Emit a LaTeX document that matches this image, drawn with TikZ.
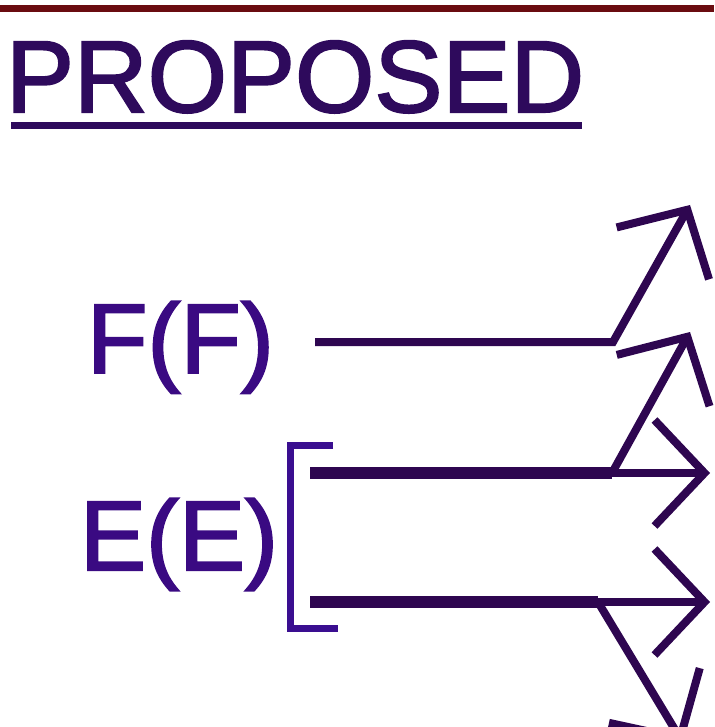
\documentclass[tikz,border=0pt]{standalone}
\usepackage{fontspec}
\setmainfont{Liberation Sans}
\newfontfamily\heavyfont[FakeBold=2]{Liberation Sans}
\usetikzlibrary{arrows.meta}
\definecolor{topred}{HTML}{6A0C10}
\definecolor{titlec}{HTML}{2E0A5C}
\definecolor{labelc}{HTML}{3A0A82}
\definecolor{arrowc}{HTML}{2E0650}
\definecolor{brackc}{HTML}{3A0E90}
\tikzset{
  lbl/.style={inner sep=0pt, outer sep=0pt, anchor=base west, text=labelc, font=\heavyfont\fontsize{99}{99}\selectfont},
  ttl/.style={inner sep=0pt, outer sep=0pt, anchor=base west, text=titlec, font=\heavyfont\fontsize{102}{102}\selectfont},
  shaft/.style={draw=arrowc, line width=8pt},
  thickshaft/.style={draw=arrowc, line width=12pt},
  arr/.style={draw=arrowc, line width=8pt, -{Straight Barb[length=50pt,width=106pt]}},
  brack/.style={draw=brackc, line width=7pt}
}
\begin{document}
\begin{tikzpicture}[x=1pt,y=-1pt]
\useasboundingbox (0,0) rectangle (714,727);
\clip (0,0) rectangle (714,727);
% top rule
\draw[topred, line width=7pt] (0,8.5) -- (714,8.5);
% title
\node[ttl] (title) at (6,112) {PROPOSED};
\draw[titlec, line width=7pt] (11,126) -- (582,126);
% labels
\node[lbl] (F) at (87,373) {F(F)};
\node[lbl] (E) at (80,570) {E(E)};
% coordinates
\coordinate (fs) at (315,342);
\coordinate (fb) at (613,342);
\coordinate (ft) at (690,205);
\coordinate (us) at (310,473);
\coordinate (ub) at (612,473);
\coordinate (ut) at (690,332);
\coordinate (uh) at (710,473);
\coordinate (ls) at (310,602);
\coordinate (lb) at (598,602);
\coordinate (lh) at (710,602);
\coordinate (dt) at (683,743);
% F arrow
\draw[arr] (fs) -- (fb) -- (ft);
% E upper
\draw[thickshaft] (us) -- (ub);
\draw[arr] (us) -- (uh);
\draw[arr] (ub) -- (ut);
% E lower
\draw[thickshaft] (ls) -- (lb);
\draw[arr] (ls) -- (lh);
\draw[arr] (lb) -- (dt);
% bracket
\coordinate (b1) at (333,445);
\coordinate (b2) at (290,445);
\coordinate (b3) at (290,628);
\coordinate (b4) at (338,628);
\draw[brack, line join=miter] (b1) -- (b2) -- (b3) -- (b4);
\end{tikzpicture}
\end{document}
